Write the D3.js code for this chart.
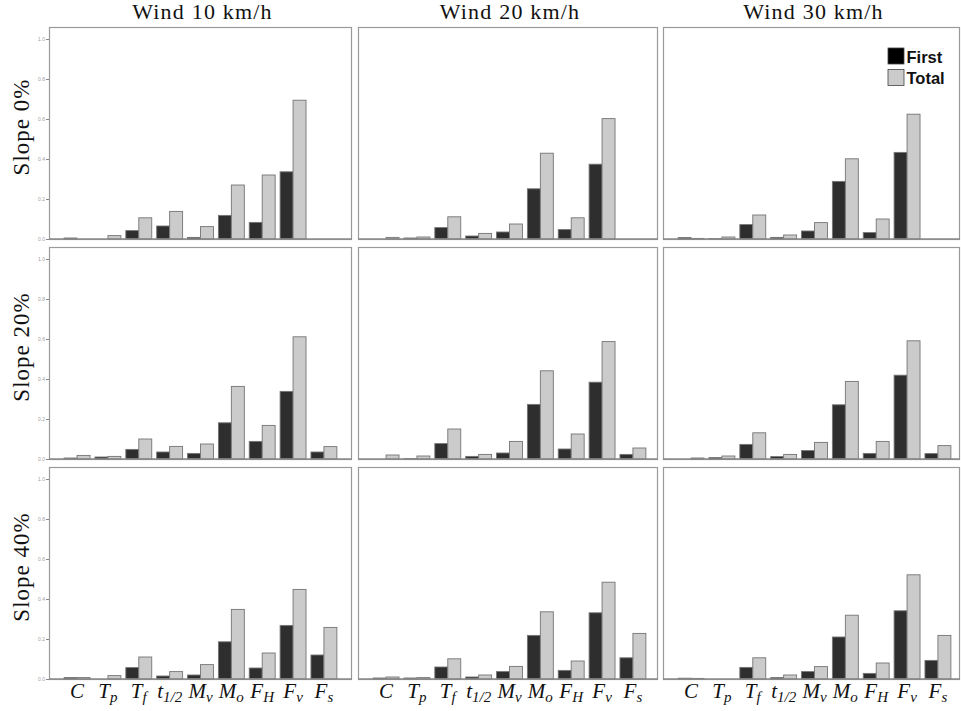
<!DOCTYPE html>
<html>
<head>
<meta charset="utf-8">
<script src="https://cdn.jsdelivr.net/npm/d3@7"></script>
<style>
body { margin: 0; background: #fff; }
svg { display: block; }
</style>
</head>
<body>
<script>
// categories
var paramBase = ["C", "T", "T", "t", "M", "M", "F", "F", "F"];
var paramSub  = ["", "p", "f", "1/2", "v", "o", "H", "v", "s"];
var params = paramBase.map(function(b, i) { return b + paramSub[i]; });
var series = ["First", "Total"];
var winds = ["Wind 10 km/h", "Wind 20 km/h", "Wind 30 km/h"];
var slopes = ["Slope 0%", "Slope 20%", "Slope 40%"];
var yTicks = [0, 0.2, 0.4, 0.6, 0.8, 1.0];

// First-order indices, one array per panel (slope / wind)
var first_s0_w10  = [0.005, 0.000, 0.042, 0.065, 0.008, 0.118, 0.083, 0.336, 0.000];
var first_s0_w20  = [0.000, 0.005, 0.057, 0.015, 0.035, 0.251, 0.047, 0.374, 0.000];
var first_s0_w30  = [0.007, 0.002, 0.072, 0.008, 0.040, 0.288, 0.032, 0.433, 0.000];
var first_s20_w10 = [0.005, 0.010, 0.048, 0.035, 0.028, 0.181, 0.088, 0.338, 0.035];
var first_s20_w20 = [0.000, 0.002, 0.077, 0.013, 0.030, 0.273, 0.050, 0.384, 0.023];
var first_s20_w30 = [0.000, 0.007, 0.073, 0.012, 0.042, 0.271, 0.028, 0.419, 0.027];
var first_s40_w10 = [0.007, 0.000, 0.057, 0.015, 0.020, 0.186, 0.055, 0.268, 0.120];
var first_s40_w20 = [0.005, 0.005, 0.060, 0.010, 0.037, 0.218, 0.043, 0.331, 0.106];
var first_s40_w30 = [0.004, 0.000, 0.058, 0.007, 0.037, 0.210, 0.028, 0.341, 0.093];

// Total-order indices
var total_s0_w10  = [0.000, 0.017, 0.106, 0.138, 0.062, 0.270, 0.320, 0.694, 0.000];
var total_s0_w20  = [0.008, 0.010, 0.111, 0.028, 0.075, 0.429, 0.106, 0.602, 0.000];
var total_s0_w30  = [0.003, 0.010, 0.120, 0.020, 0.082, 0.401, 0.100, 0.624, 0.000];
var total_s20_w10 = [0.018, 0.013, 0.100, 0.063, 0.075, 0.363, 0.168, 0.611, 0.062];
var total_s20_w20 = [0.020, 0.015, 0.150, 0.023, 0.088, 0.441, 0.125, 0.587, 0.055];
var total_s20_w30 = [0.005, 0.015, 0.131, 0.023, 0.083, 0.388, 0.088, 0.591, 0.067];
var total_s40_w10 = [0.007, 0.017, 0.110, 0.037, 0.072, 0.348, 0.130, 0.448, 0.258];
var total_s40_w20 = [0.010, 0.007, 0.101, 0.020, 0.063, 0.336, 0.090, 0.484, 0.228];
var total_s40_w30 = [0.003, 0.000, 0.106, 0.020, 0.062, 0.319, 0.080, 0.521, 0.218];

var firstGrid = [
  [first_s0_w10, first_s0_w20, first_s0_w30],
  [first_s20_w10, first_s20_w20, first_s20_w30],
  [first_s40_w10, first_s40_w20, first_s40_w30]
];
var totalGrid = [
  [total_s0_w10, total_s0_w20, total_s0_w30],
  [total_s20_w10, total_s20_w20, total_s20_w30],
  [total_s40_w10, total_s40_w20, total_s40_w30]
];

var width = 961, height = 711;
var colLeft = [49, 358, 663];
var colWidth = [303, 300, 297];
var rowTop = [27, 247, 467];
var panelH = 212;
var serif = "'Liberation Serif', 'DejaVu Serif', serif";

var svg = d3.select("body")
    .append("svg")
    .attr("width", width)
    .attr("height", height);

var x = d3.scaleBand()
    .domain(params)
    .range([0, 303])
    .paddingInner(0.16)
    .paddingOuter(0.49);
var xs = d3.scaleBand()
    .domain(series)
    .range([0, x.bandwidth()]);
var y = d3.scaleLinear()
    .domain([0, 1.06])
    .range([panelH, 0]);
var fill = d3.scaleOrdinal().domain(series).range(["#2e2e2e", "#cbcbcb"]);

for (var r = 0; r < 3; r++) {
  for (var c = 0; c < 3; c++) {
    var g = svg.append("g")
        .attr("transform", "translate(" + colLeft[c] + "," + rowTop[r] + ")");

    // frame
    g.append("rect")
        .attr("x", 0.5).attr("y", 0.5)
        .attr("width", colWidth[c] - 1).attr("height", panelH)
        .attr("fill", "none")
        .attr("stroke", "#9a9a9a")
        .attr("stroke-width", 1.2);

    var rows = params.map(function(p, i) {
      return { p: p, First: firstGrid[r][c][i], Total: totalGrid[r][c][i] };
    });

    var grp = g.append("g").selectAll("g")
        .data(rows)
        .enter().append("g")
        .attr("transform", function(d) { return "translate(" + x(d.p) + ",0)"; });

    grp.selectAll("rect")
        .data(function(d) {
          return series.map(function(s) { return { s: s, v: d[s] }; })
                       .filter(function(e) { return e.v > 0; });
        })
        .enter().append("rect")
        .attr("x", function(d) { return xs(d.s); })
        .attr("y", function(d) { return y(d.v); })
        .attr("width", xs.bandwidth())
        .attr("height", function(d) { return y(0) - y(d.v); })
        .attr("fill", function(d) { return fill(d.s); })
        .attr("stroke", "#757575")
        .attr("stroke-width", 0.9);

    // baseline
    g.append("line")
        .attr("x1", 0).attr("x2", colWidth[c])
        .attr("y1", y(0)).attr("y2", y(0))
        .attr("stroke", "#8a8a8a")
        .attr("stroke-width", 1.3);

    if (c === 0) {
      var ax = g.append("g")
          .call(d3.axisLeft(y).tickValues(yTicks).tickSize(3).tickFormat(d3.format(".1f")));
      ax.select(".domain").remove();
      ax.selectAll("line").attr("stroke", "#888");
      ax.selectAll("text")
          .attr("fill", "#a0a0a0")
          .style("font-family", "'Liberation Sans', sans-serif")
          .style("font-size", "5px")
          .attr("x", -4);
    }

    if (r === 2) {
      var lab = g.append("g").selectAll("text")
          .data(params)
          .enter().append("text")
          .attr("x", function(d) { return x(d) + x.bandwidth() / 2; })
          .attr("y", panelH + 19)
          .attr("text-anchor", "middle")
          .style("font-family", serif)
          .style("font-style", "italic")
          .style("font-size", "21px")
          .attr("fill", "#111");
      lab.append("tspan")
          .text(function(d, i) { return paramBase[i]; });
      lab.append("tspan")
          .attr("dy", 4)
          .style("font-size", "15px")
          .text(function(d, i) { return paramSub[i]; });
    }
  }
}

// column titles
svg.append("g").selectAll("text")
    .data(winds)
    .enter().append("text")
    .attr("x", function(d, i) { return colLeft[i] + colWidth[i] / 2 + 2; })
    .attr("y", 19)
    .attr("text-anchor", "middle")
    .style("font-family", serif)
    .style("font-size", "22px")
    .style("letter-spacing", "1.2px")
    .attr("fill", "#111")
    .text(function(d) { return d; });

// row labels
svg.append("g").selectAll("text")
    .data(slopes)
    .enter().append("text")
    .attr("transform", function(d, i) {
      return "translate(29," + (rowTop[i] + 100) + ") rotate(-90)";
    })
    .attr("text-anchor", "middle")
    .style("font-family", serif)
    .style("font-size", "23px")
    .style("letter-spacing", "1px")
    .attr("fill", "#111")
    .text(function(d) { return d; });

// legend
var leg = svg.append("g").attr("transform", "translate(888,48)");
var li = leg.selectAll("g")
    .data(series)
    .enter().append("g")
    .attr("transform", function(d, i) { return "translate(0," + (i * 21.5) + ")"; });
li.append("rect")
    .attr("width", 16).attr("height", 16)
    .attr("fill", function(d) { return d === "First" ? "#000" : "#cbcbcb"; })
    .attr("stroke", "#444")
    .attr("stroke-width", 0.8);
li.append("text")
    .attr("x", 18.5).attr("y", 14.5)
    .style("font-family", "'Liberation Sans', Arial, sans-serif")
    .style("font-weight", "bold")
    .style("font-size", "16.5px")
    .attr("fill", "#111")
    .text(function(d) { return d; });
</script>
</body>
</html>
